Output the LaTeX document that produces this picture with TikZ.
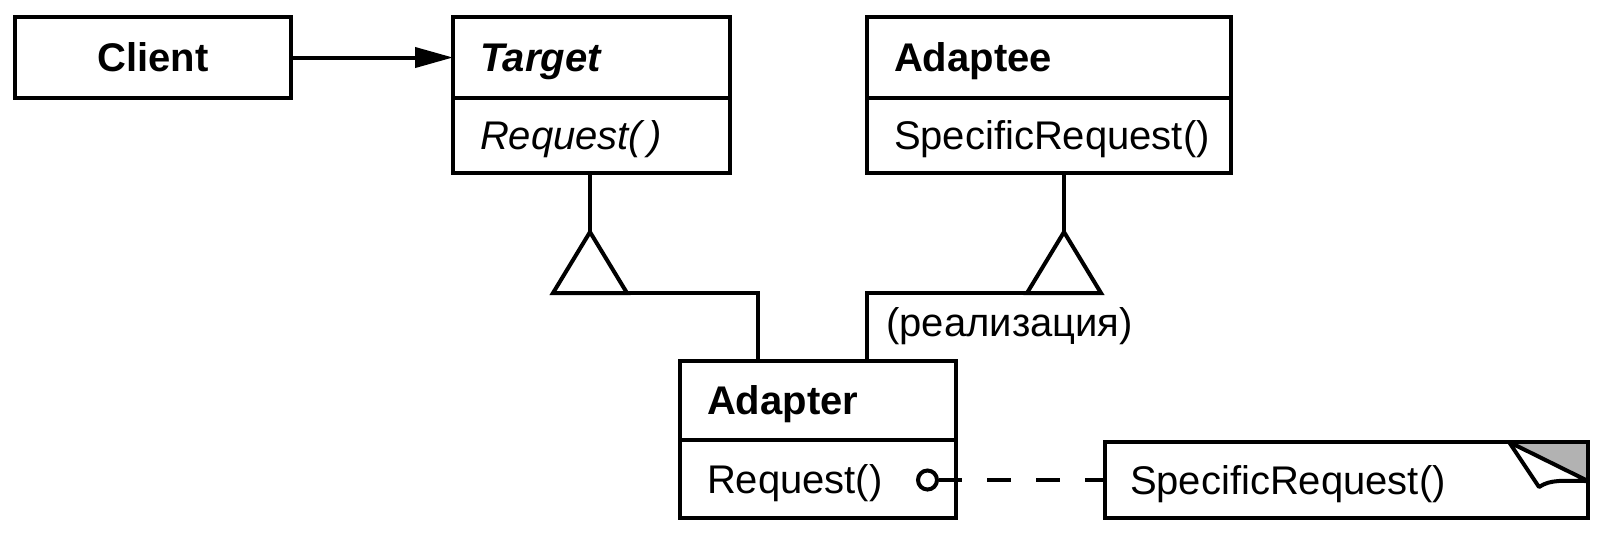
\documentclass[tikz,border=0pt]{standalone}
\usepackage{fontspec}
\setmainfont{Liberation Sans}
\usetikzlibrary{arrows.meta,calc}
\begin{document}
\begin{tikzpicture}[x=0.5pt,y=-0.5pt,
  every node/.style={font=\fontsize{20pt}{24pt}\selectfont},
  comp/.style={draw, line width=2pt, anchor=north west, inner xsep=13.5pt, inner ysep=0pt,
    text height=14.3pt, text depth=0pt, align=left, outer sep=0pt},
  conn/.style={line width=2pt},
  gen/.style={line width=2pt, fill=white, line join=miter},
  lbl/.style={anchor=base west, inner sep=0pt}
]
\useasboundingbox (0,0) rectangle (1600,538);

% Client
\node[comp, align=center, minimum width=138pt, text width=111pt, minimum height=40.5pt] (client) at (15,17) {\bfseries Client};
% Target
\node[comp, minimum width=138.5pt, text width=111.5pt, minimum height=40.5pt] (thead) at (453,17) {\bfseries\itshape Target};
\node[comp, minimum width=138.5pt, text width=111.5pt, minimum height=37.5pt] (tops) at (453,98) {\itshape Request(\,)};
% Adaptee
\node[comp, minimum width=182pt, text width=155pt, minimum height=40.5pt] (ahead) at (867,17) {\bfseries Adaptee};
\node[comp, minimum width=182pt, text width=155pt, minimum height=37.5pt] (aops) at (867,98) {SpecificRequest()};
% Adapter
\node[comp, minimum width=138pt, text width=111pt, minimum height=39.5pt] (dhead) at (680,361) {\bfseries Adapter};
\node[comp, minimum width=138pt, text width=111pt, minimum height=39pt] (dops) at (680,440) {Request()};
% Note
\node[comp, inner xsep=12.5pt, minimum width=241.5pt, text width=216.5pt, minimum height=38pt] (note) at (1105,442) {SpecificRequest()};

% Client -> Target
\draw[conn, -{Triangle[length=19pt,width=10pt]}] (client.east) -- (thead.west);

% Generalization Target <- Adapter
\coordinate (ta) at ($(tops.south west)+(137,59)$);
\coordinate (tb) at ($(ta)+(0,61)$);
\draw[conn] ($(tops.south west)+(137,0)$) -- (ta);
\draw[conn] (tb) -| ($(dhead.north west)+(78,0)$);
\draw[gen] (ta) -- ++(37,61) -- ++(-74,0) -- cycle;

% Realization Adaptee <- Adapter
\coordinate (ea) at ($(aops.south west)+(197,59)$);
\coordinate (eb) at ($(ea)+(0,61)$);
\draw[conn] ($(aops.south west)+(197,0)$) -- (ea);
\draw[conn] (eb) -| ($(dhead.north west)+(187,0)$);
\draw[gen] (ea) -- ++(37,61) -- ++(-74,0) -- cycle;
\node[lbl] (real) at (886,336) {(реализация)};

% Request() o- - - note
\node[circle, draw, line width=2pt, minimum size=9.5pt, inner sep=0pt, fill=white] (dot) at (927.5,480) {};
\draw[conn, dash pattern=on 12pt off 12.5pt, dash phase=0.5pt] (dot.east) -- (note.west);

% Note folded corner
\coordinate (f1) at ($(note.north east)+(-79,0)$);
\coordinate (f3) at ($(note.north east)+(0,39)$);
\coordinate (tip) at ($(note.north east)+(-49,45)$);
\fill[black!30] (f1) -- (note.north east) -- (f3) -- cycle;
\draw[line width=2pt, fill=white, line join=round] (f1) -- (tip) .. controls ($(tip)+(12,-8)$) and ($(f3)+(-25,0)$) .. (f3) -- cycle;
\draw[line width=2pt] (f1) -- (note.north east) -- (f3);
\end{tikzpicture}
\end{document}
